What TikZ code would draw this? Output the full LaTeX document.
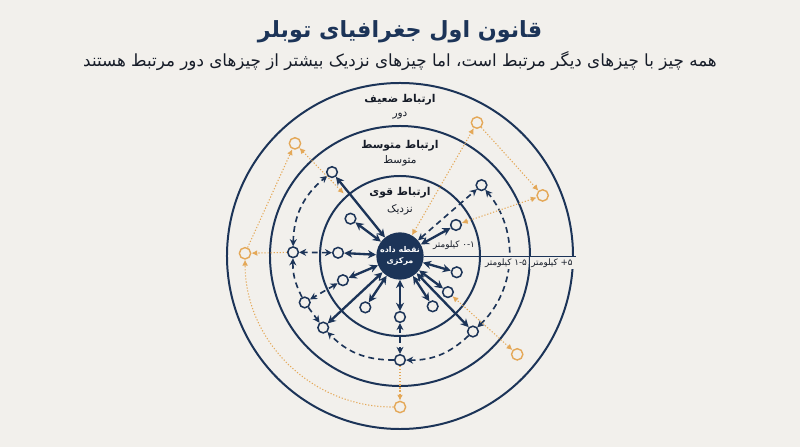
\documentclass[tikz,border=0pt]{standalone}
\usepackage{fontspec}
\setmainfont{DejaVu Sans}
\newfontfamily\fa[Script=Arabic]{DejaVu Sans}
\TeXXeTstate=1
\usetikzlibrary{arrows.meta}

\definecolor{bgc}{RGB}{242,240,236}
\definecolor{navy}{RGB}{28,52,88}
\definecolor{amber}{RGB}{228,168,88}
\definecolor{ink}{RGB}{22,28,40}

\newcommand\fatxt[1]{{\fa\beginR #1\endR}}

\tikzset{
  ring/.style={draw=navy,line width=1.7pt},
  zonehead/.style={text=ink,font=\fontsize{9.2}{10}\selectfont\bfseries,inner sep=1pt},
  zonesub/.style={text=ink,font=\fontsize{9}{10}\selectfont,inner sep=1pt},
  kmlabel/.style={text=ink,font=\fontsize{7.5}{8}\selectfont,fill=bgc,inner sep=1pt},
}

\begin{document}
\begin{tikzpicture}[x=0.03cm,y=0.03cm]
\fill[bgc] (-400,-191) rectangle (400,256);
\useasboundingbox (-400,-191) rectangle (400,256);

% heading
\node[text=navy,font=\fontsize{19}{22}\selectfont\bfseries] (title) at (0,224)
  {\fatxt{قانون اول جغرافیای توبلر}};
\node[text=ink,font=\fontsize{14.3}{16}\selectfont] (subtitle) at (0,195)
  {\fatxt{همه چیز با چیزهای دیگر مرتبط است، اما چیزهای نزدیک بیشتر از چیزهای دور مرتبط هستند}};

% rings
\draw[ring] (0,0) circle[radius=2.4cm];
\draw[ring] (0,0) circle[radius=3.9cm];
\draw[ring] (0,0) circle[radius=5.19cm];

\node[zonehead] (weakhead) at (0,156) {\fatxt{ارتباط ضعیف}};
\node[zonesub] (weaksub) at (0,140) {\fatxt{دور}};
\node[zonehead] (midhead) at (0,110) {\fatxt{ارتباط متوسط}};
\node[zonesub] (midsub) at (0,95) {\fatxt{متوسط}};
\node[zonehead] (stronghead) at (0,63) {\fatxt{ارتباط قوی}};
\node[zonesub] (strongsub) at (0,46) {\fatxt{نزدیک}};

\node[circle,fill=navy,minimum size=1.42cm,inner sep=0pt,text=white,
      font=\fontsize{6.8}{10}\selectfont\bfseries,align=center] (ctr) at (0,0)
  {\fatxt{نقطه داده}\\\fatxt{مرکزی}};

\coordinate (lineend) at (176,0);
\draw[navy,line width=0.6pt] (ctr) -- (lineend);

\begin{scope}[every node/.style={circle,draw=navy,fill=bgc,line width=1.3pt,minimum size=0.32cm,inner sep=0pt}]
    \node (a1) at (143:62) {};
    \node (a2) at (177:62) {};
    \node (a3) at (203:62) {};
    \node (a4) at (236:62) {};
    \node (a5) at (270:61) {};
    \node (a6) at (303:60) {};
    \node (a7) at (323:60) {};
    \node (a8) at (344:59) {};
    \node (a9) at (29:64) {};
    \node (b1) at (129:108) {};
    \node (b2) at (178:107) {};
    \node (b3) at (206:106) {};
    \node (b4) at (223:105) {};
    \node (b5) at (270:104) {};
    \node (b6) at (314:105) {};
    \node (b7) at (41:108) {};
\end{scope}
\begin{scope}[every node/.style={circle,draw=amber,fill=bgc,line width=1.2pt,minimum size=0.34cm,inner sep=0pt}]
    \node (c1) at (133:154) {};
    \node (c2) at (179:155) {};
    \node (c3) at (270:151) {};
    \node (c4) at (320:153) {};
    \node (c5) at (23:155) {};
    \node (c6) at (60:154) {};
\end{scope}
\coordinate (c1end) at (132:84);

\begin{scope}[>={Stealth[length=7pt,width=7pt]},
              every edge/.style={draw=navy,line width=2pt}]
    % near
    \path [<->] (ctr) edge (a1);
    \path [<->] (ctr) edge (a2);
    \path [<->] (ctr) edge (a3);
    \path [<->] (ctr) edge (a4);
    \path [<->] (ctr) edge (a5);
    \path [<->] (ctr) edge (a6);
    \path [<->] (ctr) edge (a7);
    \path [<->] (ctr) edge (a8);
    \path [<->] (ctr) edge (a9);
    \path [<->] (ctr) edge (b1);
    \path [<->] (ctr) edge (b4);
    \path [<->] (ctr) edge (b6);
\end{scope}
\begin{scope}[>={Stealth[length=6pt,width=6pt]},
              every edge/.style={draw=navy,line width=1.4pt,dash pattern=on 5pt off 3.5pt}]
    % middle
    \path [<->] (a2) edge (b2);
    \path [<->] (b2) edge[bend left=25] (b1);
    \path [->] (b3) edge[bend left=14] (b2);
    \path [<->] (a3) edge (b3);
    \path [->] (b3) edge (b4);
    \path [->] (b5) edge[bend left=23] (b4);
    \path [->] (b6) edge[bend left=22] (b5);
    \path [<->] (b6) edge[bend right=43] (b7);
    \path [<->] (a5) edge (b5);
    \path [<->] (ctr) edge (b7);
\end{scope}
\begin{scope}[>={Latex[length=5pt,width=5pt]},
              every edge/.style={draw=amber,line width=0.9pt,dash pattern=on 1pt off 1.6pt}]
    % far
    \path [->] (b2) edge (c2);
    \path [->] (c2) edge (c1);
    \path [<->] (c1) edge (c1end);
    \path [<->] (ctr) edge (c6);
    \path [->] (c6) edge (c5);
    \path [<->] (c5) edge (a9);
    \path [<->] (c4) edge (a7);
    \path [->] (b5) edge (c3);
    \path [->] (c3) edge[bend left=45] (c2);
\end{scope}

\node[kmlabel,fill=none] (km1) at (54,11) {\fatxt{\beginL۰-۱\endL{} کیلومتر}};
\node[kmlabel] (km2) at (106,-7) {\fatxt{\beginL۱-۵\endL{} کیلومتر}};
\node[kmlabel] (km3) at (152,-7) {\fatxt{\beginL۵+\endL{} کیلومتر}};
\end{tikzpicture}
\end{document}
